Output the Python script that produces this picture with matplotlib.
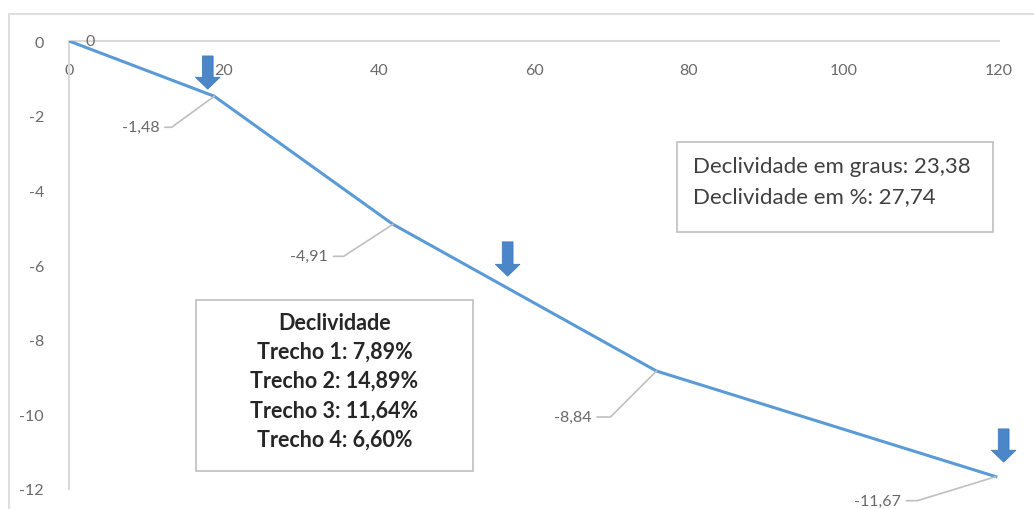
import matplotlib
matplotlib.use('Agg')
import matplotlib.pyplot as plt
from matplotlib.patches import Rectangle, FancyArrow

plt.rcParams['font.family'] = ['Lato', 'DejaVu Sans']

# distance (m) and elevation (m) of the profile
dist = [0, 18.75, 41.8, 75.8, 119.6]
elev = [0, -1.48, -4.91, -8.84, -11.67]
elev_labels = ['0', '-1,48', '-4,91', '-8,84', '-11,67']

# blue markers (x, top, tip)
arrow_x = [17.9, 56.6, 120.6]
arrow_top = [-0.40, -5.38, -10.39]
arrow_tip = [-1.29, -6.30, -11.28]

x_ticks = [0, 20, 40, 60, 80, 100, 120]
y_ticks = [0, -2, -4, -6, -8, -10, -12]

trechos = ['7,89%', '14,89%', '11,64%', '6,60%']
decl_graus = '23,38'
decl_pct = '27,74'

GRAY_TXT = '#6a6a6a'
GRAY_LINE = '#d9d9d9'
BLUE = '#5b9bd5'

fig = plt.figure(figsize=(10.34, 5.10), dpi=100)
ax = fig.add_axes([69 / 1034, 20 / 510, 930 / 1034, 448 / 510])

# outer chart border (top and left visible)
fig.add_artist(Rectangle((9 / 1034, -0.1), 1.2, (510 - 15) / 510 + 0.1,
                         transform=fig.transFigure, fill=False,
                         edgecolor=GRAY_LINE, lw=1.2))

ax.plot(dist, elev, color=BLUE, lw=2.2, solid_joinstyle='round', zorder=3)

ax.set_xlim(0, 120)
ax.set_ylim(-12, 0)
ax.set_xticks(x_ticks)
ax.set_yticks(y_ticks)
ax.set_yticklabels([str(v) for v in y_ticks])
ax.tick_params(axis='both', length=0, labelsize=11.5, labelcolor=GRAY_TXT)
ax.tick_params(axis='x', pad=16)
ax.tick_params(axis='y', pad=18)

ax.spines['top'].set_visible(False)
ax.spines['right'].set_visible(False)
ax.spines['bottom'].set_position(('data', 0))
for s in ['bottom', 'left']:
    ax.spines[s].set_color(GRAY_LINE)
    ax.spines[s].set_linewidth(1.5)
ax.patch.set_alpha(0)

# data labels with leader lines (offset in pixels, angle of leader)
label_offsets = [None, (-55, -31), (-65, -32), (-65, -46), (-95, -24)]
leader_angles = [None, 36, 33, 45, 17]
ax.annotate(elev_labels[0], xy=(dist[0], elev[0]), xytext=(16, 0),
            textcoords='offset pixels', ha='left', va='center',
            fontsize=11.5, color=GRAY_TXT)
for i in range(1, len(dist)):
    ax.annotate(elev_labels[i], xy=(dist[i], elev[i]),
                xytext=label_offsets[i], textcoords='offset pixels',
                ha='right', va='center', fontsize=11.5, color=GRAY_TXT,
                arrowprops=dict(arrowstyle='-', color='#bfbfbf', lw=1.2,
                                shrinkA=2, shrinkB=0,
                                connectionstyle='angle,angleA=0,angleB=%d,rad=0' % leader_angles[i]))

# down arrows
for xa, yt, yb in zip(arrow_x, arrow_top, arrow_tip):
    ax.add_patch(FancyArrow(xa, yt, 0, yb - yt, width=1.4, head_width=3.2,
                            head_length=0.32, length_includes_head=True,
                            color='#4a86c8', ec='#3c78b8', lw=0.5, zorder=5,
                            clip_on=False))

# slope box per segment
ax.add_patch(Rectangle((0.1366, 0.040), 0.298, 0.382, transform=ax.transAxes,
                       fill=True, facecolor='white', edgecolor='#bfbfbf', lw=1.2, zorder=4))
box_lines = ['Declividade'] + ['Trecho %d: %s' % (i + 1, t) for i, t in enumerate(trechos)]
ax.text(0.2855, 0.242, '\n'.join(box_lines), transform=ax.transAxes,
        ha='center', va='center', fontsize=15.5, fontweight='bold',
        color='#262626', linespacing=1.48, zorder=6)

# overall slope box
ax.add_patch(Rectangle((0.654, 0.574), 0.340, 0.201, transform=ax.transAxes,
                       fill=True, facecolor='white', edgecolor='#bfbfbf', lw=1.2, zorder=4))
ax.text(0.6705, 0.6875, 'Declividade em graus: %s\nDeclividade em %%: %s' % (decl_graus, decl_pct),
        transform=ax.transAxes, ha='left', va='center', fontsize=16,
        color='#404040', linespacing=1.6, zorder=6)

fig.savefig('out.png', dpi=100)
